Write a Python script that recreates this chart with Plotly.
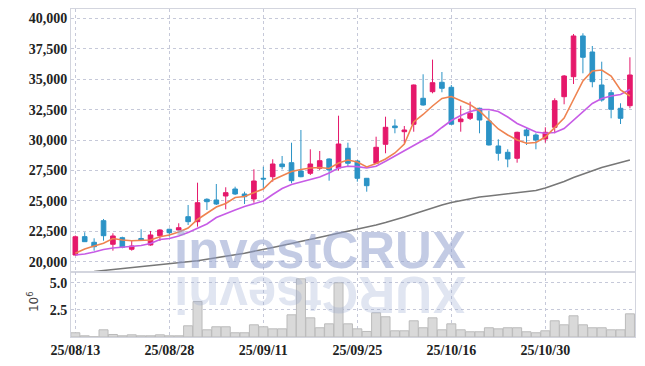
import plotly.graph_objects as go

dates = ["25/08/13", "25/08/14", "25/08/18", "25/08/19", "25/08/20", "25/08/21", "25/08/22", "25/08/25",
         "25/08/26", "25/08/27", "25/08/28", "25/08/29", "25/09/01", "25/09/02", "25/09/03", "25/09/04",
         "25/09/05", "25/09/08", "25/09/09", "25/09/10", "25/09/11", "25/09/12", "25/09/15", "25/09/16",
         "25/09/17", "25/09/18", "25/09/19", "25/09/22", "25/09/23", "25/09/24", "25/09/25", "25/09/26",
         "25/09/29", "25/09/30", "25/10/01", "25/10/02", "25/10/10", "25/10/13", "25/10/14", "25/10/15",
         "25/10/16", "25/10/17", "25/10/20", "25/10/21", "25/10/22", "25/10/23", "25/10/24", "25/10/27",
         "25/10/28", "25/10/29", "25/10/30", "25/10/31", "25/11/03", "25/11/04", "25/11/05", "25/11/06",
         "25/11/07", "25/11/10", "25/11/11", "25/11/12"]

opens = [20550, 22060, 21596, 23372, 21431, 21974, 21020, 21908, 21373, 22138,
         22665, 22607, 23700, 23290, 25132, 25074, 25403, 25979, 25568, 25156,
         26859, 26990, 28034, 28142, 27459, 27270, 27681, 28446, 27706, 29326,
         28282, 26859, 28093, 29655, 31160, 30691, 31300, 33438, 33981, 34754,
         34343, 31513, 31793, 32616, 31571, 29516, 28997, 28504, 30831, 30420,
         30091, 31053, 33570, 35214, 38563, 37246, 34532, 33898, 32616, 32830]
highs = [22150, 22420, 21924, 23512, 22336, 22056, 21727, 22665, 22525, 22665,
         22714, 23158, 24663, 26497, 25214, 26390, 26119, 26168, 25757, 27599,
         27813, 28421, 28693, 29787, 30831, 29244, 29104, 28504, 32007, 29787,
         28364, 26884, 30280, 31925, 31711, 31160, 34573, 35412, 36617, 35600,
         34532, 32830, 33158, 32665, 32418, 30066, 29244, 30691, 30971, 30560,
         31053, 33438, 35355, 38727, 38784, 37740, 36448, 34121, 33027, 36810]
lows = [20500, 21620, 20905, 21727, 20905, 21102, 20905, 21727, 21316, 21702,
        22056, 22566, 23018, 22878, 24252, 24663, 24309, 25485, 24745, 24852,
        26036, 26579, 27599, 26448, 26941, 27130, 27541, 26661, 27484, 27813,
        26579, 25757, 28035, 28915, 30560, 29737, 30691, 32830, 33849, 33932,
        31242, 30691, 31653, 30560, 29556, 28306, 27763, 28142, 29598, 29244,
        29787, 30560, 32945, 34614, 35494, 34343, 33158, 31793, 31324, 32616]
closes = [22050, 21645, 21234, 22138, 22114, 21184, 21291, 21785, 22196, 22607,
          22385, 22796, 23290, 24852, 24934, 24745, 25675, 25568, 25346, 26637,
          26801, 28034, 27813, 26661, 26990, 28035, 28306, 27541, 29680, 28093,
          26859, 26250, 29408, 31053, 31020, 30831, 34532, 32887, 34721, 34260,
          31308, 31735, 32204, 31653, 29598, 28915, 28446, 30642, 30362, 30009,
          30642, 33241, 35272, 38563, 36810, 34804, 33298, 32533, 31793, 35355]

ma_short = [20691, 21044, 21291, 21513, 21908, 21785, 21727, 21743, 21785, 22056,
            22196, 22443, 22771, 23471, 23980, 24499, 24786, 25280, 25362, 25691,
            25979, 26719, 27048, 27418, 27583, 27706, 27747, 27665, 28117, 28364,
            28199, 27788, 28076, 28446, 28940, 29680, 31489, 32106, 32805, 33422,
            33586, 33216, 32912, 32394, 31612, 30913, 30420, 30009, 29737, 29803,
            30255, 31037, 31818, 33339, 34861, 35683, 35765, 35272, 34121, 33627]
ma_mid = [20551, 20633, 20798, 21003, 21127, 21184, 21225, 21332, 21497, 21826,
          21908, 22114, 22401, 22730, 23100, 23635, 23964, 24252, 24540, 24786,
          24992, 25527, 26020, 26349, 26555, 26760, 26966, 27295, 27706, 27846,
          27821, 27706, 27854, 28257, 28693, 29104, 29556, 30009, 30420, 31037,
          31612, 32023, 32352, 32517, 32517, 32352, 31900, 31366, 31037, 30667,
          30560, 30625, 30954, 31653, 32394, 33010, 33422, 33627, 33750, 34162]
ma_long = [19071, 19112, 19194, 19276, 19359, 19424, 19482, 19564, 19646, 19712,
           19811, 19893, 19975, 20082, 20197, 20304, 20444, 20576, 20699, 20839,
           21003, 21168, 21332, 21497, 21661, 21826, 21990, 22155, 22360, 22525,
           22689, 22854, 23018, 23224, 23429, 23676, 23923, 24170, 24457, 24663,
           24869, 25033, 25198, 25321, 25403, 25485, 25568, 25650, 25732, 25855,
           26061, 26308, 26596, 26925, 27212, 27500, 27747, 27953, 28158, 28364]

volume_millions = [0.39, 0.11, 0.02, 0.66, 0.23, 0.11, 0.20, 0.11, 0.11, 0.20,
                   0.11, 0.11, 1.03, 3.26, 0.66, 0.94, 0.94, 0.39, 0.39, 1.12,
                   0.94, 0.75, 0.75, 2.04, 5.35, 1.76, 0.85, 1.21, 4.98, 1.21,
                   0.75, 0.51, 2.22, 1.86, 0.57, 0.57, 1.49, 0.85, 1.76, 0.66,
                   1.21, 0.66, 0.48, 0.48, 0.85, 0.75, 0.85, 0.85, 0.48, 0.39,
                   0.57, 1.49, 1.12, 1.95, 1.12, 0.85, 0.85, 0.66, 0.66, 2.13]

price_ticks = [20000, 22500, 25000, 27500, 30000, 32500, 35000, 37500, 40000]
volume_ticks = [2.5, 5.0]
date_ticks = ["25/08/13", "25/08/28", "25/09/11", "25/09/25", "25/10/16", "25/10/30"]

UP = "#e5186b"
DOWN = "#2b93c6"
GRID = "#c6c9d9"
FRAME = "#d3d5de"
FONT = "Liberation Sans Narrow"

fig = go.Figure()
fig.add_trace(go.Scatter(x=dates, y=ma_long, mode="lines", line=dict(color="#777777", width=1.6),
                         xaxis="x", yaxis="y", hoverinfo="skip"))
fig.add_trace(go.Candlestick(x=dates, open=opens, high=highs, low=lows, close=closes,
                             xaxis="x", yaxis="y",
                             increasing=dict(line=dict(color=UP, width=1), fillcolor=UP),
                             decreasing=dict(line=dict(color=DOWN, width=1), fillcolor=DOWN)))
fig.add_trace(go.Scatter(x=dates, y=ma_mid, mode="lines", line=dict(color="#c75ce6", width=1.6),
                         xaxis="x", yaxis="y", hoverinfo="skip"))
fig.add_trace(go.Scatter(x=dates, y=ma_short, mode="lines", line=dict(color="#ef8350", width=1.6),
                         xaxis="x", yaxis="y", hoverinfo="skip"))
fig.add_trace(go.Bar(x=dates, y=volume_millions, xaxis="x2", yaxis="y2",
                     marker=dict(color="#d9d9d9", line=dict(color="#bbbbbb", width=1))))

split = 0.1973
axis_common = dict(showgrid=True, gridcolor=GRID, griddash="dot", gridwidth=1,
                   showline=True, mirror=True, linecolor=FRAME, linewidth=1,
                   zeroline=False, ticks="", automargin=False,
                   tickfont=dict(family=FONT, size=14, color="#222222", weight="bold"))

fig.update_layout(
    width=645, height=366,
    margin=dict(l=71, r=10, t=9, b=29, autoexpand=False),
    paper_bgcolor="white", plot_bgcolor="white",
    showlegend=False, bargap=0.04,
    xaxis=dict(axis_common, domain=[0, 1], anchor="y", type="category",
               range=[-0.46, 59.54], tickvals=date_ticks, showticklabels=False,
               rangeslider=dict(visible=False)),
    yaxis=dict(axis_common, domain=[split, 1], anchor="x", range=[19128, 40782],
               tickvals=price_ticks, tickformat=",d"),
    xaxis2=dict(axis_common, domain=[0, 1], anchor="y2", type="category", matches="x",
                range=[-0.46, 59.54], tickvals=date_ticks, ticktext=date_ticks),
    yaxis2=dict(axis_common, domain=[0, split], anchor="x2", range=[0, 5.95],
                tickvals=volume_ticks, tickformat=".1f"),
)

fig.add_annotation(text="<b>investCRUX</b>", xref="paper", yref="paper", x=0.4415, y=0.265,
                   xanchor="center", yanchor="middle", showarrow=False,
                   font=dict(family="Liberation Sans", size=51, color="rgba(145,160,205,0.55)"))
fig.add_annotation(text="<b>XURCtsevni</b>", xref="paper", yref="paper", x=0.4415, y=0.13,
                   xanchor="center", yanchor="middle", showarrow=False, textangle=180,
                   font=dict(family="Liberation Sans", size=51, color="rgba(145,160,205,0.28)"))
fig.add_annotation(text="10<sup>6</sup>", xref="paper", yref="paper", x=-0.067, y=0.107,
                   xanchor="center", yanchor="middle", showarrow=False, textangle=-90,
                   font=dict(family="DejaVu Sans", size=12, color="#444444"))

fig.write_html("out.html", config={"displayModeBar": False},
               post_script="document.body.style.margin='0px';")
